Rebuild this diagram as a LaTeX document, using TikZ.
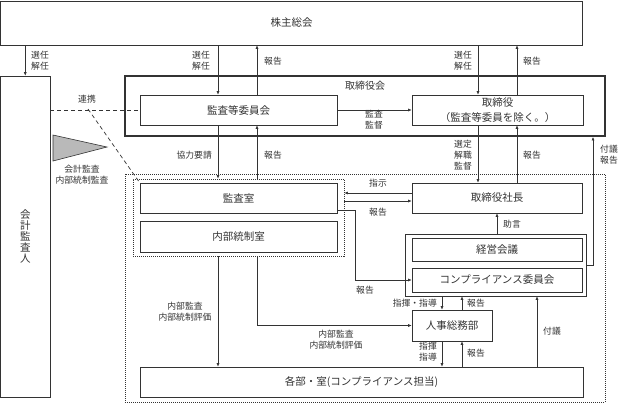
\documentclass[tikz,border=0pt]{standalone}
\usepackage{fontspec}
\setmainfont{Noto Sans CJK JP}
\usetikzlibrary{arrows.meta}
\definecolor{ink}{HTML}{333333}
\begin{document}
\begin{tikzpicture}[x=1pt,y=-1pt,
  box/.style={draw=ink, line width=0.6pt, fill=white, inner sep=0pt, font=\fontsize{10.5}{14}\selectfont, text=ink, align=center},
  lbl/.style={inner sep=0pt, font=\fontsize{8.8}{11}\selectfont, text=ink, align=center},
  arr/.style={draw=ink, line width=0.6pt, -{Latex[length=3.5pt,width=3pt]}},
  ln/.style={draw=ink, line width=0.6pt},
  dotbox/.style={draw=ink, line width=0.7pt, dash pattern=on 1pt off 1pt, inner sep=0pt},
  dashln/.style={draw=ink, line width=0.7pt, dash pattern=on 4pt off 3pt}]
\useasboundingbox (0,0) rectangle (618,405);

% named x / y positions
\coordinate (xa) at (218,0);
\coordinate (xb) at (257,0);
\coordinate (xc) at (478,0);
\coordinate (xd) at (517,0);
\coordinate (xe) at (355,0);
\coordinate (xf) at (593,0);
\coordinate (xg) at (442,0);
\coordinate (xh) at (462,0);
\coordinate (xi) at (537,0);
\coordinate (y1) at (0,193);
\coordinate (y2) at (0,201);
\coordinate (y3) at (0,210);

% dotted groups
\node[dotbox, minimum width=480pt, minimum height=228pt] (outer) at (365,288) {};
\node[dotbox, minimum width=211pt, minimum height=77pt] (inner) at (238.5,217.5) {};

% boxes
\node[box, minimum width=582pt, minimum height=44pt] (kabu) at (291.5,23) {株主総会};
\node[box, minimum width=49.5pt, minimum height=321pt, font=\fontsize{10.5}{11}\selectfont] (kaikei) at (25.25,236.5) {会\\計\\監\\査\\人};
\node[draw=ink, line width=1.8pt, minimum width=480pt, minimum height=60pt, inner sep=0pt] (torikai) at (365,106) {};
\node[lbl, font=\fontsize{10}{12}\selectfont] (ltorikai) at (365,86) {取締役会};
\node[box, minimum width=197pt, minimum height=30pt] (kansa) at (238.5,110) {監査等委員会};
\node[box, minimum width=171pt, minimum height=30pt, font=\fontsize{10.5}{15}\selectfont] (tori) at (497.5,110) {取締役\\（監査等委員を除く。）};
\node[box, minimum width=197pt, minimum height=30pt] (kansashitsu) at (238.5,198) {監査室};
\node[box, minimum width=197pt, minimum height=31pt] (naibu) at (238.5,236.5) {内部統制室};
\node[box, minimum width=170pt, minimum height=30pt] (shacho) at (497,198) {取締役社長};
\node[draw=ink, line width=0.6pt, minimum width=181pt, minimum height=62pt, inner sep=0pt] (group) at (495.5,265) {};
\node[box, minimum width=170pt, minimum height=23pt] (keiei) at (497,249.5) {経営会議};
\node[box, minimum width=170pt, minimum height=24pt] (comp) at (497,280) {コンプライアンス委員会};
\node[box, minimum width=80pt, minimum height=31pt] (jinji) at (452,325.5) {人事総務部};
\node[box, minimum width=443pt, minimum height=30pt] (kakubu) at (361.5,382) {各部・室(コンプライアンス担当)};

% triangle
\path[draw=ink, fill=gray!55, line width=0.6pt] (53,135) -- (107,147) -- (53,161) -- cycle;
\node[lbl] (lkaikei) at (82,175) {会計監査\\内部統制監査};

% 連携
\coordinate (rk) at (88,109);
\draw[dashln] (kaikei.east |- kansa.west) -- (kansa.west);
\draw[dashln] (rk) -- (kansashitsu.north west);
\node[lbl] (lrenkei) at (87,99) {連携};

% shareholders
\draw[arr] (kabu.south -| kaikei.north) -- (kaikei.north);
\node[lbl, anchor=west] (l1) at (31,61) {選任\\解任};
\draw[arr] (kabu.south -| xa) -- (kansa.north -| xa);
\node[lbl, anchor=east] (l2) at (210,61) {選任\\解任};
\draw[arr] (kansa.north -| xb) -- (kabu.south -| xb);
\node[lbl, anchor=west] (l3) at (264,61) {報告};
\draw[arr] (kabu.south -| xc) -- (tori.north -| xc);
\node[lbl, anchor=east] (l4) at (472,61) {選任\\解任};
\draw[arr] (tori.north -| xd) -- (kabu.south -| xd);
\node[lbl, anchor=west] (l5) at (523,61) {報告};

% audit committee -> directors
\draw[arr] (kansa.east) -- (tori.west |- kansa.east);
\node[lbl] (l6) at (374,120) {監査\\監督};

% committee <-> audit office
\draw[arr] (kansa.south -| xa) -- (inner.north -| xa);
\node[lbl, anchor=east] (l7) at (212,155) {協力要請};
\draw[arr] (inner.north -| xb) -- (kansa.south -| xb);
\node[lbl, anchor=west] (l8) at (264,155) {報告};

% directors <-> president
\draw[arr] (tori.south -| xc) -- (shacho.north -| xc);
\node[lbl, anchor=east] (l9) at (472,155) {選定\\解職\\監督};
\draw[arr] (shacho.north -| xd) -- (tori.south -| xd);
\node[lbl, anchor=west] (l10) at (523,155) {報告};

% president <-> audit office
\draw[arr] (shacho.west |- y1) -- (inner.east |- y1);
\node[lbl] (l11) at (378,183) {指示};
\draw[arr] (inner.east |- y2) -- (shacho.west |- y2);
\node[lbl] (l12) at (378,212) {報告};

% audit office -> compliance committee
\draw[arr] (kansashitsu.east |- y3) -- (xe |- y3) -- (xe |- comp.west) -- (comp.west);
\node[lbl] (l13) at (365,290) {報告};

% advice
\draw[arr] (group.north -| shacho.south) -- (shacho.south);
\node[lbl] (l14) at (512,224) {助言};

% 付議・報告 to board
\draw[arr] (group.east) -- (xf |- group.east) -- (xf |- torikai.south);
\node[lbl] (l15) at (609,155) {付議\\報告};

% group <-> HR
\draw[arr] (group.south -| xg) -- (jinji.north -| xg);
\node[lbl, anchor=east] (l16) at (437,303) {指揮・指導};
\draw[arr] (jinji.north -| xh) -- (group.south -| xh);
\node[lbl, anchor=west] (l17) at (467,303) {報告};

% HR <-> departments
\draw[arr] (jinji.south -| xg) -- (kakubu.north -| xg);
\node[lbl, anchor=east] (l18) at (437,352) {指揮\\指導};
\draw[arr] (kakubu.north -| xh) -- (jinji.south -| xh);
\node[lbl, anchor=west] (l19) at (467,353) {報告};

% departments -> group
\draw[arr] (kakubu.north -| xi) -- (group.south -| xi);
\node[lbl, anchor=west] (l20) at (543,331) {付議};

% internal audit lines
\draw[arr] (inner.south -| xa) -- (kakubu.north -| xa);
\node[lbl] (l21) at (185,311.5) {内部監査\\内部統制評価};
\draw[arr] (inner.south -| xb) -- (xb |- jinji.west) -- (jinji.west);
\node[lbl] (l22) at (336,340) {内部監査\\内部統制評価};
\end{tikzpicture}
\end{document}
